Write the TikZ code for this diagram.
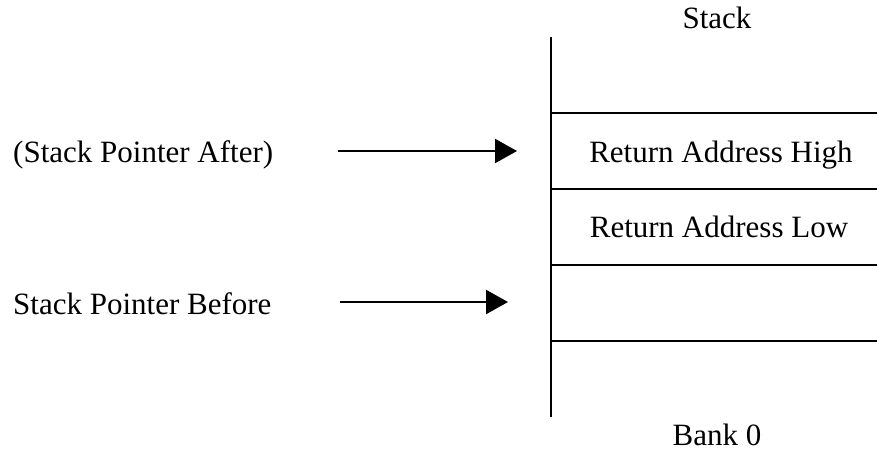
\documentclass[tikz,border=0pt]{standalone}
\usepackage{fontspec}
\setmainfont{Liberation Serif}
\usetikzlibrary{arrows.meta}
\begin{document}
\begin{tikzpicture}[x=1pt,y=-1pt,
  lbl/.style={inner sep=0pt,font=\fontsize{31}{36}\selectfont},
  wall/.style={line width=2.6pt},
  ptr/.style={line width=2.3pt,-{Triangle[length=22pt,width=24pt]}}]
\useasboundingbox (0,0) rectangle (877,451);
% stack column
\coordinate (top) at (551,37);
\coordinate (bot) at (551,417);
\draw[wall] (top) -- (bot);
\coordinate (l1) at (551,113); \coordinate (r1) at (877,113);
\coordinate (l2) at (551,189); \coordinate (r2) at (877,189);
\coordinate (l3) at (551,265); \coordinate (r3) at (877,265);
\coordinate (l4) at (551,341); \coordinate (r4) at (877,341);
\draw[wall] (l1) -- (r1);
\draw[wall] (l2) -- (r2);
\draw[wall] (l3) -- (r3);
\draw[wall] (l4) -- (r4);
% labels
\node[lbl,anchor=base] (stack) at (717,28) {Stack};
\node[lbl,anchor=base] (bank) at (717,445) {Bank 0};
\node[lbl,anchor=base] (rah) at (721,162) {Return Address High};
\node[lbl,anchor=base] (ral) at (719,237) {Return Address Low};
\node[lbl,anchor=base west] (after) at (13,162) {(Stack Pointer After)};
\node[lbl,anchor=base west] (before) at (13,314) {Stack Pointer Before};
% arrows
\coordinate (a1s) at (338,151); \coordinate (a1e) at (517,151);
\coordinate (a2s) at (340,302); \coordinate (a2e) at (508,302);
\draw[ptr] (a1s) -- (a1e);
\draw[ptr] (a2s) -- (a2e);
\end{tikzpicture}
\end{document}
